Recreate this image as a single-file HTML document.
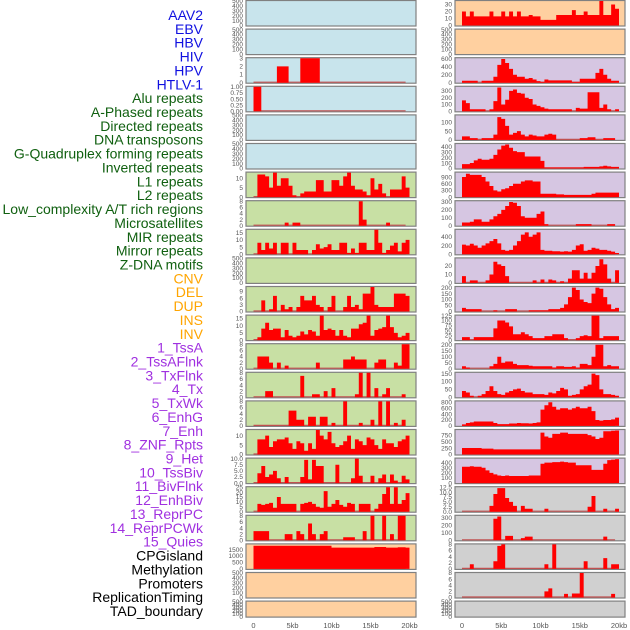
<!DOCTYPE html>
<html><head><meta charset="utf-8"><style>
html,body{margin:0;padding:0;background:#fff;width:630px;height:630px;overflow:hidden}
svg{display:block;font-family:"Liberation Sans",sans-serif}
</style></head><body>
<svg id="chart" width="630" height="630" viewBox="0 0 630 630"></svg>
<script>
const trackLabels=["AAV2","EBV","HBV","HIV","HPV","HTLV-1","Alu repeats","A-Phased repeats","Directed repeats","DNA transposons","G-Quadruplex forming repeats","Inverted repeats","L1 repeats","L2 repeats","Low_complexity A/T rich regions","Microsatellites","MIR repeats","Mirror repeats","Z-DNA motifs","CNV","DEL","DUP","INS","INV","1_TssA","2_TssAFlnk","3_TxFlnk","4_Tx","5_TxWk","6_EnhG","7_Enh","8_ZNF_Rpts","9_Het","10_TssBiv","11_BivFlnk","12_EnhBiv","13_ReprPC","14_ReprPCWk","15_Quies","CPGisland","Methylation","Promoters","ReplicationTiming","TAD_boundary"];
const xTickLabels=["0","5kb","10kb","15kb","20kb"];
const xTickValues=[0,5,10,15,20];
const Z=new Array(40).fill(0);
const blankTicks=["0","100","200","300","400","500"];
const L_HIV=[0,0,0,0,0,0,2,2,2,0,0,0,3,3,3,3,3,0,0,0,0,0,0,0,0,0,0,0,0,0,0,0,0,0,0,0,0,0,0,0];
const L_ALU=[1,1,0,0,0,0,0,0,0,0,0,0,0,0,0,0,0,0,0,0,0,0,0,0,0,0,0,0,0,0,0,0,0,0,0,0,0,0,0,0];
const L_L1=[0,12,12,11,5,13,6,10,10,6,1,0,2,3,3,3,9,9,3,3,9,9,6,11,13,6,4,4,3,1,10,4,7,2,0,4,4,4,11,5];
const L_LOW=[0,0,0,0,0,0,0,0,1,0,1,1,0,0,0,0,0,0,0,0,0,0,0,0,0,0,0,8,2,0,0,0,0,0,1,0,0,0,0,0];
const L_MIR=[0,8,3,8,4,8,0,8,8,0,8,3,3,3,0,3,7,4,5,7,3,3,8,8,1,4,1,8,8,3,3,17,8,1,3,6,8,2,8,10];
const L_DEL=[0,0,5,0,1,7,0,3,1,2,0,2,7,5,5,7,3,2,0,2,7,0,0,2,7,2,3,1,8,8,11,3,2,2,2,2,8,8,8,7];
const L_INS=[0,2,8,12,7,8,8,2,7,3,2,3,6,4,7,6,3,17,7,8,7,3,7,3,2,8,8,11,12,17,3,7,8,9,17,9,5,2,3,5];
const L_TSSA=[0,4,4,4,2,0,2,0,1,0,0,0,0,0,0,0,2,0,0,0,0,0,0,3,3,4,3,3,3,0,0,2,3,3,0,0,2,1,8,8];
const L_TX=[0,0,0,2,2,0,0,0,0,0,0,0,7,0,0,1,1,0,2,0,3,0,0,0,0,0,1,8,0,8,0,3,0,1,3,0,0,0,1,0];
const L_TXWK=[0,0,0,0,0,0,0,0,0,5,5,2,2,0,3,3,0,3,3,0,1,0,0,8,0,0,0,1,0,0,2,0,8,0,8,0,1,0,2,0];
const L_ZNF=[0,8,8,10,4,7,8,8,9,6,3,7,6,2,6,3,13,10,8,12,6,4,5,7,10,3,8,7,5,9,8,5,3,8,6,6,4,7,8,10];
const L_TSSBIV=[0,4,7,2.5,3.5,5,2,0,2.5,0,0,0,2.5,9.5,1.5,9.5,7,7,0,0,0,7.5,0,0,0,2,10,3,0,0,3,0,2,3.5,0,3.5,1,0,3,1.5];
const L_ENHBIV=[0,8,7,8,9,4,15,8,8,8,8,0,8,9,10,8,5,4,21,5,8,12,7,5,9,8,0,8,8,8,0,3,8,18,25,8,25,8,12,19];
const L_REPRPC=[3,3,3,3,0,0,0,0,2,2,0,3,2,0,5.5,2,0,2,3,0,0,0,0,1,1,1,0,0,3,0,8,0,0,8,0,2,0,8,8,0];
const L_CPG=[1800,1800,1800,1800,1800,1800,1800,1800,1800,1800,1800,1800,1800,1800,1800,1800,1800,1800,1800,1800,1650,1650,1650,1650,1650,1650,1650,1650,1650,1650,1650,1700,1700,1700,1650,1650,1650,1680,1680,1650];
const R_AAV2=[20,13,20,13,13,13,13,20,13,13,20,13,20,13,20,13,13,15,13,13,8,8,8,8,15,15,15,15,22,15,15,20,15,15,15,35,15,15,30,24];
const R_2=[50,50,50,50,0,50,50,50,150,450,600,500,350,200,150,150,100,120,80,40,20,80,60,60,60,60,60,60,20,20,100,100,100,100,250,350,200,100,50,50];
const R_3=[160,120,30,30,30,30,0,30,150,350,100,170,300,320,270,260,200,180,100,80,60,40,30,30,30,30,30,30,0,50,40,40,280,280,280,50,100,30,0,30];
const R_4=[20,20,10,10,0,10,10,10,30,130,120,80,30,40,50,30,20,30,25,20,20,30,35,30,0,0,0,0,0,0,10,10,15,15,0,0,10,10,10,0];
const R_5=[80,80,100,150,180,160,160,180,250,350,420,440,380,320,300,300,220,220,220,220,140,20,20,20,20,20,20,20,20,20,20,30,30,30,30,40,50,40,30,30];
const R_6=[900,1050,1000,1000,1000,900,700,500,300,250,350,400,500,600,600,700,750,750,700,700,150,150,150,150,120,120,100,100,100,100,100,100,100,150,200,200,200,200,200,200];
const R_7=[40,40,50,80,80,50,50,80,120,150,200,250,300,290,250,120,100,100,100,150,180,20,0,0,0,0,0,0,0,20,20,20,20,0,0,0,0,20,20,0];
const R_8=[220,200,240,200,150,200,250,300,350,250,100,80,100,200,300,450,500,400,450,500,100,80,80,70,70,60,70,60,100,200,230,80,100,150,130,100,100,80,60,30];
const R_9=[8,0,3,3,0,0,3,10,25,22,20,8,0,0,0,0,0,0,3,0,4,0,4,3,0,2,0,5,15,15,5,12,5,12,20,28,22,5,0,15];
const R_10=[30,20,20,20,20,0,0,0,10,0,0,20,20,20,0,0,0,10,10,10,10,10,20,20,20,30,60,120,200,180,100,80,70,150,200,190,120,60,20,30];
const R_11=[15,15,0,15,15,15,15,15,60,100,100,90,70,30,30,40,30,20,10,10,10,20,20,30,30,30,10,0,0,10,20,25,20,125,125,10,20,20,20,20];
const R_12=[20,10,0,0,0,0,0,20,40,100,50,60,60,40,30,30,30,25,20,20,20,20,20,10,20,20,15,15,20,10,40,40,30,100,200,200,20,30,20,20];
const R_13=[40,30,10,0,10,20,40,70,40,20,15,30,40,50,55,40,30,30,20,20,20,15,30,25,40,60,50,10,15,20,50,70,80,150,140,50,20,20,15,10];
const R_14=[50,100,120,150,150,150,150,150,100,60,60,60,80,80,100,90,90,80,100,120,550,700,800,650,550,600,600,550,600,650,600,600,650,500,200,180,200,200,220,280];
const R_15=[250,250,250,250,250,230,230,230,200,200,200,200,200,200,200,200,200,200,200,200,850,700,650,800,800,850,850,800,800,800,800,800,750,700,600,650,900,900,920,930];
const R_16=[320,320,330,320,320,300,250,200,170,150,140,150,140,140,140,140,140,150,150,150,380,400,400,410,410,420,410,400,400,350,350,350,350,260,260,260,380,450,460,470];
const R_17=[0,0,0,0,0,0,0,3,9,12,12,7,5,3,0,3,1.5,1.5,0,0,0,1.5,0,0,0,0,0,0,0,0,0,0,2.5,8,0,0,1.5,0,0,1.5];
const R_18=[0,0,0,0,0,0,0,0,290,320,0,60,60,0,0,30,50,50,0,0,0,0,0,0,0,0,0,0,0,0,0,0,0,0,0,0,50,0,0,0];
const R_19=[0,0,1.5,0,0,0,0,0,2.5,7.5,8,0,0,0,0,0,0,0,0,0,0,1.5,0,8,0,0,0,0,0,0,0,2.5,0,0,0,0,3.5,0,1.5,1.5];
const R_20=[0,0,0,0,0,0,0,0,0,0,0,0,0,0,0,0,0,0,0,0,0,2,3,0,0,0,1.2,0,1.3,1.3,8,0,0,0,0,0,0,0,1.2,0];
const BLUE="#c8e4ec",GREEN="#c8e0a4",ORANGE="#ffd0a0",PURPLE="#d6c6e2",GRAY="#d0d0d0";
const leftPanels=[
 [Z,500,blankTicks,BLUE],[Z,500,blankTicks,BLUE],[L_HIV,3,["0","1","2","3"],BLUE],
 [L_ALU,1,["0.00","0.25","0.50","0.75","1.00"],BLUE],[Z,500,blankTicks,BLUE],[Z,500,blankTicks,BLUE],
 [L_L1,13,["0","5","10"],GREEN],[L_LOW,8,["0","2","4","6","8"],GREEN],[L_MIR,17,["0","5","10","15"],GREEN],
 [Z,500,blankTicks,GREEN],[L_DEL,11,["0","3","6","9"],GREEN],[L_INS,17,["0","5","10","15"],GREEN],
 [L_TSSA,8,["0","2","4","6","8"],GREEN],[L_TX,8,["0","2","4","6","8"],GREEN],[L_TXWK,8,["0","2","4","6","8"],GREEN],
 [L_ZNF,13,["0","5","10"],GREEN],[L_TSSBIV,10,["0.0","2.5","5.0","7.5","10.0"],GREEN],
 [L_ENHBIV,25,["0","5","10","15","20","25"],GREEN],[L_REPRPC,8,["0","2","4","6","8"],GREEN],
 [L_CPG,1900,["0","500","1000","1500"],ORANGE],[Z,500,blankTicks,ORANGE],[Z,500,blankTicks,ORANGE]];
const rightPanels=[
 [R_AAV2,35,["0","10","20","30"],ORANGE],[Z,500,blankTicks,ORANGE],[R_2,620,["0","200","400","600"],PURPLE],
 [R_3,360,["0","100","200","300"],PURPLE],[R_4,140,["0","50","100"],PURPLE],[R_5,450,["0","100","200","300","400"],PURPLE],
 [R_6,1100,["0","300","600","900"],PURPLE],[R_7,310,["0","100","200","300"],PURPLE],[R_8,560,["0","200","400"],PURPLE],
 [R_9,29,["0","10","20"],PURPLE],[R_10,205,["0","50","100","150","200"],PURPLE],[R_11,125,["0","25","50","75","100","125"],PURPLE],
 [R_12,205,["0","50","100","150","200"],PURPLE],[R_13,155,["0","50","100","150"],PURPLE],[R_14,830,["0","200","400","600","800"],PURPLE],
 [R_15,950,["0","250","500","750"],PURPLE],[R_16,480,["0","100","200","300","400"],PURPLE],
 [R_17,12.5,["0.0","2.5","5.0","7.5","10.0","12.5"],GRAY],[R_18,330,["0","100","200","300"],GRAY],
 [R_19,8,["0","2","4","6","8"],GRAY],[R_20,8,["0","2","4","6","8"],GRAY],[Z,500,blankTicks,GRAY]];
const labelColors=i=>i<6?"#1010e0":i<19?"#106010":i<24?"#ffa500":i<39?"#a030e0":"#000";
const NS="http://www.w3.org/2000/svg";
const svg=document.getElementById("chart");
function mk(tag,attrs,parent){const e=document.createElementNS(NS,tag);for(const k in attrs)e.setAttribute(k,attrs[k]);(parent||svg).appendChild(e);return e;}
trackLabels.forEach((t,i)=>{
 const e=mk("text",{x:203,y:15+i*13.86+5,"text-anchor":"end","font-size":"14",fill:labelColors(i)});
 
 
 e.textContent=t;});
function drawPanel(p,col,row){
 const [data,ymax,ticks,bg]=p;
 const bx=col?455:246, bw=170;
 const top=row*28.6+0.5, h=row===21?16:25.5;
 const x0=col?462:253.5, sc=col?7.85:7.8;
 const g=mk("g",{});
 
 
 mk("rect",{x:bx,y:top,width:bw,height:h,fill:bg,stroke:"#808080","stroke-width":1.2},g);
 const ys=v=>top+h-0.5-(v/ymax)*(h-1);
 ticks.forEach(t=>{const v=parseFloat(t);const y=ys(v);
  const tx=mk("text",{x:bx-3,y:y+2.2,"text-anchor":"end","font-size":"6.5",fill:"#555"},g);
  
  
  tx.textContent=t;});
 if(data!==Z){
  const xs=k=>x0+k*sc;
  let d="M"+xs(0)+","+ys(0);
  data.forEach((v,i)=>{d+=" L"+xs(i*0.5)+","+ys(v)+" L"+xs(i*0.5+0.5)+","+ys(v);});
  d+=" L"+xs(20)+","+ys(0)+"Z";
  mk("line",{x1:xs(0),x2:xs(19.5),y1:ys(0)-0.5,y2:ys(0)-0.5,stroke:"#c05050","stroke-width":1.2},g);
  const a=mk("path",{d:d,fill:"#ff0000"},g);
  
  
 }
}
leftPanels.forEach((p,i)=>drawPanel(p,0,i));
rightPanels.forEach((p,i)=>drawPanel(p,1,i));
[0,1].forEach(col=>{const x0=col?462:253.5,sc=col?7.85:7.8;
 xTickValues.forEach((v,i)=>{const t=mk("text",{x:x0+v*sc,y:628,"text-anchor":"middle","font-size":"7.5",fill:"#555"});
  
  
  t.textContent=xTickLabels[i];});});
</script>
</body></html>
